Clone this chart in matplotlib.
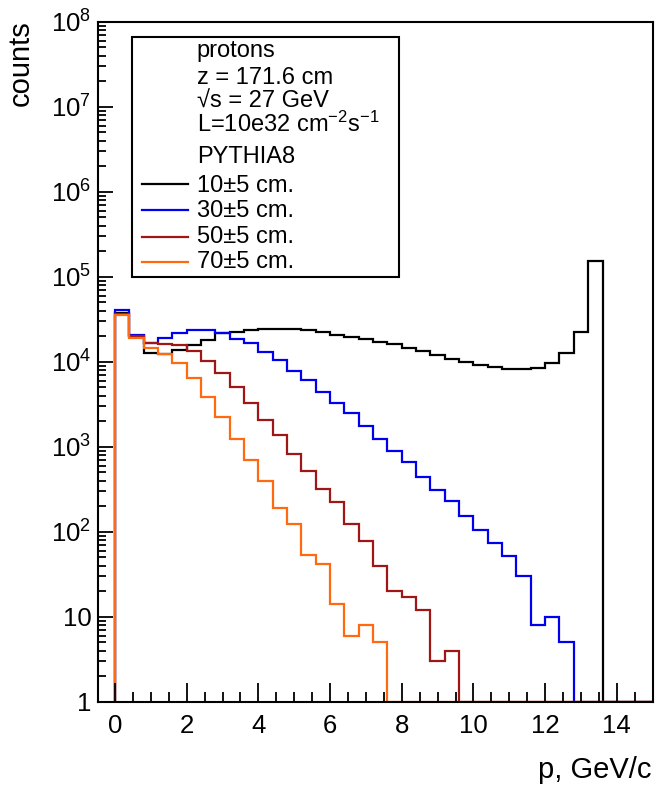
import numpy as np
import matplotlib
matplotlib.use("Agg")
import matplotlib.pyplot as plt
from matplotlib.patches import Rectangle
from matplotlib.lines import Line2D
from matplotlib.ticker import FixedLocator, MultipleLocator, LogLocator, NullFormatter

plt.rcParams['font.family'] = ['Liberation Sans', 'DejaVu Sans']
plt.rcParams['mathtext.fontset'] = 'custom'
plt.rcParams['mathtext.rm'] = 'Liberation Sans'
plt.rcParams['mathtext.it'] = 'Liberation Sans:italic'

# bin width 0.4 GeV/c, starting at p = 0
bin_width = 0.4
n_bins = 38

# counts per bin
counts_10 = [37000, 20100, 12800, 12200, 13700, 15700, 18000, 21600, 22500, 23600,
             24000, 24200, 24000, 23600, 22100, 20600, 19400, 18300, 17200, 16000,
             14400, 13400, 11900, 10700, 10000, 9150, 8590, 8130, 8130, 8360,
             9580, 12800, 22500, 154000]
counts_30 = [41000, 20600, 16400, 19000, 22000, 23400, 23600, 21500, 18600, 16400,
             13100, 10500, 7840, 6090, 4440, 3240, 2470, 1770, 1230, 897,
             666, 444, 310, 232, 153, 105, 74, 52, 30, 8,
             10, 5]
counts_50 = [36500, 19800, 16700, 16000, 15700, 13400, 10200, 7310, 5000, 3290,
             2060, 1374, 820, 518, 315, 225, 123, 77, 40, 20,
             17, 12, 3, 4]
counts_70 = [35400, 18900, 14400, 12300, 9600, 6380, 3870, 2250, 1230, 698,
             398, 191, 123, 53, 42, 14, 6, 8, 5]

labels = ["10\u00b15 cm.", "30\u00b15 cm.", "50\u00b15 cm.", "70\u00b15 cm."]
colors = ["#000000", "#0000ee", "#a01515", "#ff6a10"]
header = ["protons", "z = 171.6 cm", "\u221as = 27 GeV",
          r"L=10e32 cm$^{\mathregular{-2}}$s$^{\mathregular{-1}}$", "PYTHIA8"]

W, H = 657, 787
fig = plt.figure(figsize=(W / 100, H / 100), dpi=100)
ax = fig.add_axes([98.3 / W, 1 - 701.7 / H, (652.7 - 98.3) / W, (701.7 - 21.7) / H])

edges = np.arange(n_bins + 1) * bin_width
ymin = 1
for vals, col in zip([counts_10, counts_30, counts_50, counts_70], colors):
    v = np.zeros(n_bins)
    v[:len(vals)] = vals
    v = np.where(v > ymin, v, ymin)  # empty bins sit on the bottom like ROOT
    ax.stairs(v, edges, baseline=ymin, color=col, lw=1.6)

ax.set_yscale('log')
ax.set_ylim(1, 1e8)
ax.set_xlim(-0.466, 15.0)

ax.xaxis.set_major_locator(MultipleLocator(2))
ax.xaxis.set_minor_locator(MultipleLocator(0.5))
ax.yaxis.set_major_locator(FixedLocator([10.0 ** k for k in range(9)]))
ax.yaxis.set_minor_locator(LogLocator(base=10, subs=np.arange(2, 10), numticks=20))
ax.yaxis.set_minor_formatter(NullFormatter())
ylabels = ['1', '10'] + [r'$\mathregular{10^{%d}}$' % k for k in range(2, 9)]
ax.set_yticklabels(ylabels)

ax.tick_params(axis='x', which='major', direction='in', length=14, width=1.3,
               labelsize=18.5, pad=9)
ax.tick_params(axis='x', which='minor', direction='in', length=7, width=1.3)
ax.tick_params(axis='y', which='major', direction='in', length=11, width=1.3,
               labelsize=18.5, pad=5)
ax.tick_params(axis='y', which='minor', direction='in', length=5.5, width=1.3)
for s in ax.spines.values():
    s.set_linewidth(1.5)

fig.text(21 / W, 1 - 20 / H, "counts", rotation=90, ha='center', va='top', fontsize=21)
fig.text(652 / W, 1 - 770 / H, "p, GeV/c", ha='right', va='center', fontsize=21)

# legend box (ROOT style)
fig.add_artist(Rectangle((131.7 / W, 1 - 277.3 / H), (399 - 131.7) / W, (277.3 - 36.7) / H,
                         transform=fig.transFigure, fill=False, ec='black', lw=1.5))
header_y = [56.7, 84, 107.3, 131.7, 163.3]
for txt, y in zip(header, header_y):
    fig.text(196.7 / W, 1 - y / H, txt, ha='left', va='baseline', fontsize=17)
entry_y = [191.7, 216.7, 243.3, 268.3]
line_y = [184, 210, 236.7, 262.3]
for lab, col, ty, ly in zip(labels, colors, entry_y, line_y):
    fig.add_artist(Line2D([141.7 / W, 188.3 / W], [1 - ly / H, 1 - ly / H],
                          transform=fig.transFigure, color=col, lw=1.6))
    fig.text(196.7 / W, 1 - ty / H, lab, ha='left', va='baseline', fontsize=17)

fig.savefig("out.png", dpi=100)
